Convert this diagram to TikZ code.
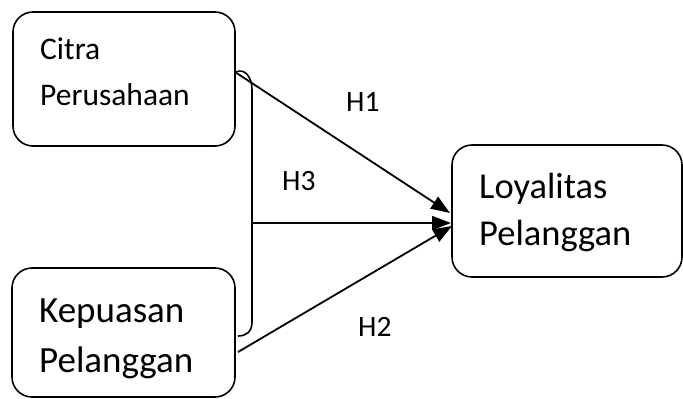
\documentclass[tikz,border=0pt]{standalone}
\usepackage{fontspec}
\setmainfont{Carlito}
\usetikzlibrary{arrows.meta}
\begin{document}
\begin{tikzpicture}[x=1pt,y=-1pt,
  box/.style={draw=black, line width=1.6pt, rounded corners=20pt, minimum width=#1, inner sep=0pt},
  txt/.style={anchor=base west, inner sep=0pt},
  conn/.style={draw=black, line width=1.8pt},
  arr/.style={conn, -{Triangle[length=19pt,width=14pt]}}]
\useasboundingbox (0,0) rectangle (683,399);
\node[box=222pt, minimum height=134pt] (b1) at (124,79) {};
\node[box=223pt, minimum height=129pt] (b2) at (123.5,332.5) {};
\node[box=230pt, minimum height=132pt] (b3) at (567,211) {};
\node[txt, font=\fontsize{31.5}{31.5}\selectfont] (t1a) at (40,59) {Citra};
\node[txt, font=\fontsize{31.5}{31.5}\selectfont] (t1b) at (40,105) {Perusahaan};
\node[txt, font=\fontsize{37}{37}\selectfont] (t2a) at (39,322) {Kepuasan};
\node[txt, font=\fontsize{37}{37}\selectfont] (t2b) at (39,372) {Pelanggan};
\node[txt, font=\fontsize{36.5}{36.5}\selectfont] (t3a) at (479,198) {Loyalitas};
\node[txt, font=\fontsize{36.5}{36.5}\selectfont] (t3b) at (479,245) {Pelanggan};
\node[txt, font=\fontsize{29.5}{29.5}\selectfont] (h1) at (346,111) {H1};
\node[txt, font=\fontsize{29.5}{29.5}\selectfont] (h3) at (282,190) {H3};
\node[txt, font=\fontsize{29.5}{29.5}\selectfont] (h2) at (358,336) {H2};
\coordinate (bt) at (236,72);
\coordinate (bm) at (252,223);
\coordinate (bb) at (238,336);
\coordinate (h1s) at (235,72);
\coordinate (h1e) at (450,213);
\coordinate (h3e) at (451,223);
\coordinate (h2s) at (238,352);
\coordinate (h2e) at (452,226);
\draw[conn, line width=1.6pt] (bt) .. controls (244,68) and (252,76) .. (252,90) -- (252,322) .. controls (252,332) and (246,336) .. (bb);
\draw[arr] (h1s) -- (h1e);
\draw[arr] (bm) -- (h3e);
\draw[arr] (h2s) -- (h2e);
\end{tikzpicture}
\end{document}
